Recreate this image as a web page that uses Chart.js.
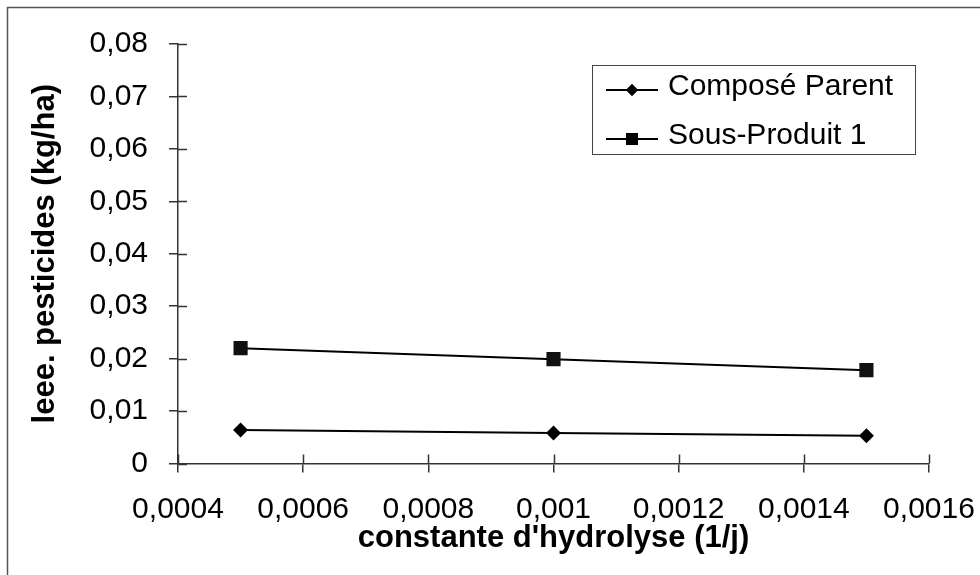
<!DOCTYPE html>
<html>

<head>
    <title>Constante d'hydrolyse</title>
    <script src="https://cdn.jsdelivr.net/npm/chart.js@4.4.1/dist/chart.umd.min.js"></script>
    <style>
        body {
            margin: 0;
            background: #fff;
        }

        #wrap {
            width: 980px;
            height: 575px;
        }
    </style>
</head>

<body>
    <div id="wrap">
        <canvas id="hydro-chart" width="980" height="575"></canvas>
    </div>

    <script>
        // Valeurs
        const kHydrolyse = [0.0005, 0.001, 0.0015];
        const composeParent = [0.0064, 0.0058, 0.0053];
        const sousProduit1 = [0.0220, 0.0199, 0.0178];

        const seriesNames = ['Composé Parent', 'Sous-Produit 1'];

        const xTickValues = [0.0004, 0.0006, 0.0008, 0.001, 0.0012, 0.0014, 0.0016];
        const xTickLabels = ['0,0004', '0,0006', '0,0008', '0,001', '0,0012', '0,0014', '0,0016'];
        const yTickValues = [0, 0.01, 0.02, 0.03, 0.04, 0.05, 0.06, 0.07, 0.08];
        const yTickLabels = ['0', '0,01', '0,02', '0,03', '0,04', '0,05', '0,06', '0,07', '0,08'];

        const FONT = "'Liberation Sans', Arial, sans-serif";
        const AXIS = '#333';
        const TICK = 9;

        // petits traits de graduation vers l'intérieur + cadre + légende
        const decor = {
            id: 'decor',
            afterDraw(chart) {
                const ctx = chart.ctx;
                const x = chart.scales.x, y = chart.scales.y;
                const area = chart.chartArea;
                ctx.save();
                ctx.strokeStyle = AXIS;
                ctx.lineWidth = 1.5;
                ctx.beginPath();
                yTickValues.forEach(v => {
                    const py = Math.round(y.getPixelForValue(v)) + 0.5;
                    ctx.moveTo(area.left, py);
                    ctx.lineTo(area.left + TICK, py);
                });
                xTickValues.forEach(v => {
                    const px = Math.round(x.getPixelForValue(v)) + 0.5;
                    ctx.moveTo(px, area.bottom);
                    ctx.lineTo(px, area.bottom - TICK);
                });
                ctx.stroke();

                // cadre extérieur (haut et gauche)
                ctx.strokeStyle = '#555';
                ctx.lineWidth = 1.5;
                ctx.beginPath();
                ctx.moveTo(7.5, 575);
                ctx.lineTo(7.5, 7.5);
                ctx.lineTo(980, 7.5);
                ctx.stroke();

                // légende
                const lx = 592, ly = 65, lw = 323, lh = 89;
                ctx.strokeStyle = '#444';
                ctx.lineWidth = 1;
                ctx.strokeRect(lx + 0.5, ly + 0.5, lw, lh);
                ctx.font = '30px ' + FONT;
                ctx.fillStyle = '#000';
                ctx.textBaseline = 'middle';
                const rows = [ly + 21, ly + 70];
                const marks = [6, 8.5];
                chart.data.datasets.forEach((ds, i) => {
                    const cy = rows[i] + 4;
                    ctx.strokeStyle = '#000';
                    ctx.lineWidth = 2;
                    ctx.beginPath();
                    ctx.moveTo(606, cy);
                    ctx.lineTo(658, cy);
                    ctx.stroke();
                    Chart.helpers.drawPoint(ctx, {
                        pointStyle: ds.pointStyle,
                        radius: marks[i],
                        borderWidth: 0
                    }, 632, cy);
                    ctx.fill();
                    ctx.fillText(seriesNames[i], 668, rows[i] + 1);
                });
                ctx.restore();
            }
        };

        const ctx = document.getElementById('hydro-chart').getContext('2d');

        new Chart(ctx, {
            type: 'scatter',
            data: {
                datasets: [{
                    label: seriesNames[0],
                    data: kHydrolyse.map((k, i) => ({ x: k, y: composeParent[i] })),
                    showLine: true,
                    borderColor: '#000',
                    backgroundColor: '#000',
                    borderWidth: 2,
                    pointStyle: 'rectRot',
                    pointRadius: 7.5,
                    pointBorderWidth: 0
                }, {
                    label: seriesNames[1],
                    data: kHydrolyse.map((k, i) => ({ x: k, y: sousProduit1[i] })),
                    showLine: true,
                    borderColor: '#000',
                    backgroundColor: '#111',
                    borderWidth: 2,
                    pointStyle: 'rect',
                    pointRadius: 10,
                    pointBorderWidth: 0
                }]
            },
            options: {
                responsive: false,
                animation: false,
                layout: {
                    padding: { top: 44, right: 51, bottom: 0, left: 0 }
                },
                scales: {
                    x: {
                        type: 'linear',
                        min: 0.0004,
                        max: 0.0016,
                        afterBuildTicks: s => { s.ticks = xTickValues.map(v => ({ value: v })); },
                        afterFit: s => {
                            s.height = 111.5;
                            s.paddingLeft = 0;
                            s.paddingRight = 0;
                        },
                        ticks: {
                            color: '#000',
                            padding: 19,
                            maxRotation: 0,
                            font: { family: FONT, size: 30 },
                            callback: (v, i) => xTickLabels[i]
                        },
                        grid: {
                            drawOnChartArea: false,
                            tickLength: TICK,
                            color: AXIS,
                            lineWidth: 1.5
                        },
                        border: { color: AXIS, width: 1.5 },
                        title: {
                            display: true,
                            text: "constante d'hydrolyse (1/j)",
                            color: '#000',
                            padding: { top: 0, bottom: 18 },
                            font: { family: FONT, size: 31, weight: 'bold' }
                        }
                    },
                    y: {
                        min: 0,
                        max: 0.08,
                        afterBuildTicks: s => { s.ticks = yTickValues.map(v => ({ value: v })); },
                        afterFit: s => { s.width = 178; },
                        ticks: {
                            color: '#000',
                            padding: 21,
                            font: { family: FONT, size: 30 },
                            callback: (v, i) => yTickLabels[i]
                        },
                        grid: {
                            drawOnChartArea: false,
                            tickLength: TICK,
                            color: AXIS,
                            lineWidth: 1.5
                        },
                        border: { color: AXIS, width: 1.5 },
                        title: {
                            display: true,
                            text: 'leee. pesticides (kg/ha)',
                            color: '#000',
                            padding: { top: 27, bottom: 0 },
                            font: { family: FONT, size: 31, weight: 'bold' }
                        }
                    }
                },
                plugins: {
                    legend: { display: false },
                    tooltip: { enabled: false }
                }
            },
            plugins: [decor]
        });
    </script>
</body>

</html>
